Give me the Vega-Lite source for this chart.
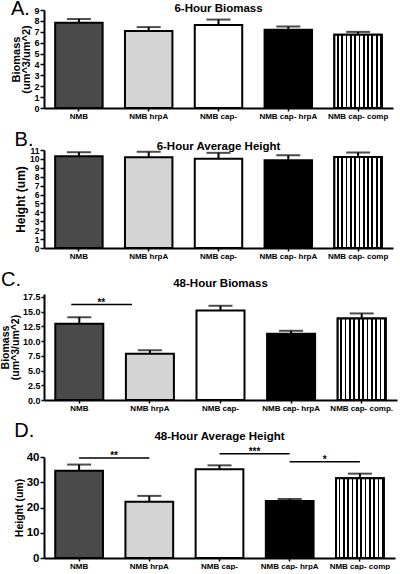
{
  "$schema": "https://vega.github.io/schema/vega-lite/v6.json",
  "padding": {"left": 0, "top": -2, "right": 2, "bottom": 0},
  "columns": 1,
  "spacing": 9,
  "datasets": {
    "A": [
      {"g": "NMB", "mean": 7.83, "upper": 8.17},
      {"g": "NMB hrpA", "mean": 7.08, "upper": 7.43},
      {"g": "NMB cap-", "mean": 7.62, "upper": 8.12},
      {"g": "NMB cap- hrpA", "mean": 7.18, "upper": 7.48},
      {"g": "NMB cap- comp", "mean": 6.72, "upper": 6.99}
    ],
    "B": [
      {"g": "NMB", "mean": 10.3, "upper": 10.75},
      {"g": "NMB hrpA", "mean": 10.2, "upper": 10.8},
      {"g": "NMB cap-", "mean": 10.03, "upper": 10.68},
      {"g": "NMB cap- hrpA", "mean": 9.85, "upper": 10.4},
      {"g": "NMB cap- comp", "mean": 10.22, "upper": 10.72}
    ],
    "C": [
      {"g": "NMB", "mean": 12.95, "upper": 14.05},
      {"g": "NMB hrpA", "mean": 7.85, "upper": 8.45},
      {"g": "NMB cap-", "mean": 15.2, "upper": 16.0},
      {"g": "NMB cap- hrpA", "mean": 11.25, "upper": 11.75},
      {"g": "NMB cap- comp.", "mean": 13.85, "upper": 14.7}
    ],
    "D": [
      {"g": "NMB", "mean": 34.6, "upper": 37.0},
      {"g": "NMB hrpA", "mean": 22.3, "upper": 24.6},
      {"g": "NMB cap-", "mean": 35.1, "upper": 36.7},
      {"g": "NMB cap- hrpA", "mean": 22.6, "upper": 23.4},
      {"g": "NMB cap- comp", "mean": 31.6, "upper": 33.4}
    ],
    "sigC": [
      {"a": "NMB", "b": "NMB hrpA", "y": 16.2, "label": "**"}
    ],
    "sigD": [
      {"a": "NMB", "b": "NMB hrpA", "y": 39.6, "label": "**"},
      {"a": "NMB cap-", "b": "NMB cap- hrpA", "y": 41.3, "label": "***"},
      {"a": "NMB cap- hrpA", "b": "NMB cap- comp", "y": 38.1, "label": "*"}
    ]
  },
  "concat": [
    {
      "title": {"text": "A.", "anchor": "start", "fontSize": 20, "fontWeight": "normal", "offset": -16},
      "vconcat": [
        {
          "width": 349, "height": 98,
          "title": {"text": "6-Hour Biomass", "fontSize": 11.5, "offset": -8},
          "data": {"name": "A"},
          "encoding": {
            "x": {"field": "g", "type": "nominal",
              "scale": {"domain": ["NMB", "NMB hrpA", "NMB cap-", "NMB cap- hrpA", "NMB cap- comp"], "paddingInner": 0.32, "paddingOuter": 0.16},
              "axis": {"title": null, "labelAngle": 0, "labelFontSize": 8, "tickSize": 3}}
          },
          "layer": [
            {"mark": {"type": "bar", "stroke": "black", "strokeWidth": 2},
             "encoding": {
               "y": {"field": "mean", "type": "quantitative", "scale": {"domain": [0, 9]},
                 "axis": {"title": ["Biomass", "(um^3/um^2)"], "values": [0,1,2,3,4,5,6,7,8,9], "tickCount": 10, "labelOverlap": false, "labelFontSize": 9, "titleFontSize": 11, "titleLineHeight": 10, "titlePadding": 2}},
               "color": {"field": "g", "type": "nominal", "legend": null,
                 "scale": {"domain": ["NMB", "NMB hrpA", "NMB cap-", "NMB cap- hrpA", "NMB cap- comp"], "range": ["#4a4a4a", "#d4d4d4", "#ffffff", "#000000", "#ffffff"]}}
             }},
            {"transform": [{"filter": "datum.g == 'NMB cap- comp'"}],
             "mark": {"type": "bar", "stroke": "black", "strokeWidth": 2,
               "fill": {"gradient": "linear", "x1": 0, "y1": 0, "x2": 1, "y2": 0, "stops": [
{"offset":0,"color":"white"},{"offset":0.055,"color":"white"},{"offset":0.055,"color":"black"},{"offset":0.0909,"color":"black"},
{"offset":0.0909,"color":"white"},{"offset":0.1459,"color":"white"},{"offset":0.1459,"color":"black"},{"offset":0.1818,"color":"black"},
{"offset":0.1818,"color":"white"},{"offset":0.2368,"color":"white"},{"offset":0.2368,"color":"black"},{"offset":0.2727,"color":"black"},
{"offset":0.2727,"color":"white"},{"offset":0.3277,"color":"white"},{"offset":0.3277,"color":"black"},{"offset":0.3636,"color":"black"},
{"offset":0.3636,"color":"white"},{"offset":0.4186,"color":"white"},{"offset":0.4186,"color":"black"},{"offset":0.4545,"color":"black"},
{"offset":0.4545,"color":"white"},{"offset":0.5095,"color":"white"},{"offset":0.5095,"color":"black"},{"offset":0.5455,"color":"black"},
{"offset":0.5455,"color":"white"},{"offset":0.6005,"color":"white"},{"offset":0.6005,"color":"black"},{"offset":0.6364,"color":"black"},
{"offset":0.6364,"color":"white"},{"offset":0.6914,"color":"white"},{"offset":0.6914,"color":"black"},{"offset":0.7273,"color":"black"},
{"offset":0.7273,"color":"white"},{"offset":0.7823,"color":"white"},{"offset":0.7823,"color":"black"},{"offset":0.8182,"color":"black"},
{"offset":0.8182,"color":"white"},{"offset":0.8732,"color":"white"},{"offset":0.8732,"color":"black"},{"offset":0.9091,"color":"black"},
{"offset":0.9091,"color":"white"},{"offset":0.9641,"color":"white"},{"offset":0.9641,"color":"black"},{"offset":1,"color":"black"}]}},
             "encoding": {"y": {"field": "mean", "type": "quantitative"}}},
            {"mark": {"type": "rule", "color": "black", "strokeWidth": 2},
             "encoding": {"y": {"field": "mean", "type": "quantitative"}, "y2": {"field": "upper"}}},
            {"mark": {"type": "tick", "color": "black", "thickness": 2, "size": 24},
             "encoding": {"y": {"field": "upper", "type": "quantitative"}}}
          ]
        }
      ]
    },
    {
      "title": {"text": "B.", "anchor": "start", "fontSize": 20, "fontWeight": "normal", "offset": -9},
      "vconcat": [
        {
          "width": 349, "height": 98,
          "title": {"text": "6-Hour Average Height", "fontSize": 11.5, "offset": -6},
          "data": {"name": "B"},
          "encoding": {
            "x": {"field": "g", "type": "nominal",
              "scale": {"domain": ["NMB", "NMB hrpA", "NMB cap-", "NMB cap- hrpA", "NMB cap- comp"], "paddingInner": 0.32, "paddingOuter": 0.16},
              "axis": {"title": null, "labelAngle": 0, "labelFontSize": 8, "tickSize": 3}}
          },
          "layer": [
            {"mark": {"type": "bar", "stroke": "black", "strokeWidth": 2},
             "encoding": {
               "y": {"field": "mean", "type": "quantitative", "scale": {"domain": [0, 11]},
                 "axis": {"title": "Height (um)", "values": [0,1,2,3,4,5,6,7,8,9,10,11], "tickCount": 12, "labelOverlap": false, "labelFontSize": 8.5, "titleFontSize": 12}},
               "color": {"field": "g", "type": "nominal", "legend": null,
                 "scale": {"domain": ["NMB", "NMB hrpA", "NMB cap-", "NMB cap- hrpA", "NMB cap- comp"], "range": ["#4a4a4a", "#d4d4d4", "#ffffff", "#000000", "#ffffff"]}}
             }},
            {"transform": [{"filter": "datum.g == 'NMB cap- comp'"}],
             "mark": {"type": "bar", "stroke": "black", "strokeWidth": 2,
               "fill": {"gradient": "linear", "x1": 0, "y1": 0, "x2": 1, "y2": 0, "stops": [
{"offset":0,"color":"white"},{"offset":0.055,"color":"white"},{"offset":0.055,"color":"black"},{"offset":0.0909,"color":"black"},
{"offset":0.0909,"color":"white"},{"offset":0.1459,"color":"white"},{"offset":0.1459,"color":"black"},{"offset":0.1818,"color":"black"},
{"offset":0.1818,"color":"white"},{"offset":0.2368,"color":"white"},{"offset":0.2368,"color":"black"},{"offset":0.2727,"color":"black"},
{"offset":0.2727,"color":"white"},{"offset":0.3277,"color":"white"},{"offset":0.3277,"color":"black"},{"offset":0.3636,"color":"black"},
{"offset":0.3636,"color":"white"},{"offset":0.4186,"color":"white"},{"offset":0.4186,"color":"black"},{"offset":0.4545,"color":"black"},
{"offset":0.4545,"color":"white"},{"offset":0.5095,"color":"white"},{"offset":0.5095,"color":"black"},{"offset":0.5455,"color":"black"},
{"offset":0.5455,"color":"white"},{"offset":0.6005,"color":"white"},{"offset":0.6005,"color":"black"},{"offset":0.6364,"color":"black"},
{"offset":0.6364,"color":"white"},{"offset":0.6914,"color":"white"},{"offset":0.6914,"color":"black"},{"offset":0.7273,"color":"black"},
{"offset":0.7273,"color":"white"},{"offset":0.7823,"color":"white"},{"offset":0.7823,"color":"black"},{"offset":0.8182,"color":"black"},
{"offset":0.8182,"color":"white"},{"offset":0.8732,"color":"white"},{"offset":0.8732,"color":"black"},{"offset":0.9091,"color":"black"},
{"offset":0.9091,"color":"white"},{"offset":0.9641,"color":"white"},{"offset":0.9641,"color":"black"},{"offset":1,"color":"black"}]}},
             "encoding": {"y": {"field": "mean", "type": "quantitative"}}},
            {"mark": {"type": "rule", "color": "black", "strokeWidth": 2},
             "encoding": {"y": {"field": "mean", "type": "quantitative"}, "y2": {"field": "upper"}}},
            {"mark": {"type": "tick", "color": "black", "thickness": 2, "size": 24},
             "encoding": {"y": {"field": "upper", "type": "quantitative"}}}
          ]
        }
      ]
    },
    {
      "title": {"text": "C.", "anchor": "start", "fontSize": 20, "fontWeight": "normal", "offset": -12},
      "vconcat": [
        {
          "width": 353, "height": 106,
          "title": {"text": "48-Hour Biomass", "fontSize": 11.5, "offset": 3.5},
          "data": {"name": "C"},
          "encoding": {
            "x": {"field": "g", "type": "nominal",
              "scale": {"domain": ["NMB", "NMB hrpA", "NMB cap-", "NMB cap- hrpA", "NMB cap- comp."], "paddingInner": 0.32, "paddingOuter": 0.16},
              "axis": {"title": null, "labelAngle": 0, "labelFontSize": 8, "tickSize": 3}}
          },
          "layer": [
            {"mark": {"type": "bar", "stroke": "black", "strokeWidth": 2},
             "encoding": {
               "y": {"field": "mean", "type": "quantitative", "scale": {"domain": [0, 17.5]},
                 "axis": {"title": ["Biomass", "(um^3/um^2)"], "values": [0, 2.5, 5, 7.5, 10, 12.5, 15, 17.5], "tickCount": 8, "format": ".1f", "labelOverlap": false, "labelFontSize": 9, "tickSize": 3, "titleFontSize": 10.5, "titleLineHeight": 9.5, "titlePadding": 2}},
               "color": {"field": "g", "type": "nominal", "legend": null,
                 "scale": {"domain": ["NMB", "NMB hrpA", "NMB cap-", "NMB cap- hrpA", "NMB cap- comp."], "range": ["#4a4a4a", "#d4d4d4", "#ffffff", "#000000", "#ffffff"]}}
             }},
            {"transform": [{"filter": "datum.g == 'NMB cap- comp.'"}],
             "mark": {"type": "bar", "stroke": "black", "strokeWidth": 2,
               "fill": {"gradient": "linear", "x1": 0, "y1": 0, "x2": 1, "y2": 0, "stops": [
{"offset":0,"color":"white"},{"offset":0.055,"color":"white"},{"offset":0.055,"color":"black"},{"offset":0.0909,"color":"black"},
{"offset":0.0909,"color":"white"},{"offset":0.1459,"color":"white"},{"offset":0.1459,"color":"black"},{"offset":0.1818,"color":"black"},
{"offset":0.1818,"color":"white"},{"offset":0.2368,"color":"white"},{"offset":0.2368,"color":"black"},{"offset":0.2727,"color":"black"},
{"offset":0.2727,"color":"white"},{"offset":0.3277,"color":"white"},{"offset":0.3277,"color":"black"},{"offset":0.3636,"color":"black"},
{"offset":0.3636,"color":"white"},{"offset":0.4186,"color":"white"},{"offset":0.4186,"color":"black"},{"offset":0.4545,"color":"black"},
{"offset":0.4545,"color":"white"},{"offset":0.5095,"color":"white"},{"offset":0.5095,"color":"black"},{"offset":0.5455,"color":"black"},
{"offset":0.5455,"color":"white"},{"offset":0.6005,"color":"white"},{"offset":0.6005,"color":"black"},{"offset":0.6364,"color":"black"},
{"offset":0.6364,"color":"white"},{"offset":0.6914,"color":"white"},{"offset":0.6914,"color":"black"},{"offset":0.7273,"color":"black"},
{"offset":0.7273,"color":"white"},{"offset":0.7823,"color":"white"},{"offset":0.7823,"color":"black"},{"offset":0.8182,"color":"black"},
{"offset":0.8182,"color":"white"},{"offset":0.8732,"color":"white"},{"offset":0.8732,"color":"black"},{"offset":0.9091,"color":"black"},
{"offset":0.9091,"color":"white"},{"offset":0.9641,"color":"white"},{"offset":0.9641,"color":"black"},{"offset":1,"color":"black"}]}},
             "encoding": {"y": {"field": "mean", "type": "quantitative"}}},
            {"mark": {"type": "rule", "color": "black", "strokeWidth": 2},
             "encoding": {"y": {"field": "mean", "type": "quantitative"}, "y2": {"field": "upper"}}},
            {"mark": {"type": "tick", "color": "black", "thickness": 2, "size": 24},
             "encoding": {"y": {"field": "upper", "type": "quantitative"}}},
            {"data": {"name": "sigC"},
             "mark": {"type": "rule", "color": "black", "strokeWidth": 1.5, "xOffset": -8, "x2Offset": -18},
             "encoding": {"x": {"field": "a", "type": "nominal"}, "x2": {"field": "b"}, "y": {"field": "y", "type": "quantitative"}}},
            {"data": {"name": "sigC"},
             "mark": {"type": "text", "color": "black", "fontSize": 10, "fontWeight": "bold", "baseline": "middle", "dx": 22, "dy": -2},
             "encoding": {"x": {"field": "a", "type": "nominal"}, "y": {"field": "y", "type": "quantitative"}, "text": {"field": "label"}}}
          ]
        }
      ]
    },
    {
      "title": {"text": "D.", "anchor": "start", "fontSize": 20, "fontWeight": "normal", "offset": -10},
      "vconcat": [
        {
          "width": 351, "height": 101,
          "title": {"text": "48-Hour Average  Height", "fontSize": 11.5, "offset": 4},
          "data": {"name": "D"},
          "encoding": {
            "x": {"field": "g", "type": "nominal",
              "scale": {"domain": ["NMB", "NMB hrpA", "NMB cap-", "NMB cap- hrpA", "NMB cap- comp"], "paddingInner": 0.32, "paddingOuter": 0.16},
              "axis": {"title": null, "labelAngle": 0, "labelFontSize": 8, "tickSize": 3}}
          },
          "layer": [
            {"mark": {"type": "bar", "stroke": "black", "strokeWidth": 2},
             "encoding": {
               "y": {"field": "mean", "type": "quantitative", "scale": {"domain": [0, 40]},
                 "axis": {"title": "Height (um)", "values": [0, 10, 20, 30, 40], "tickCount": 5, "labelOverlap": false, "labelFontSize": 11.5, "titleFontSize": 10.5}},
               "color": {"field": "g", "type": "nominal", "legend": null,
                 "scale": {"domain": ["NMB", "NMB hrpA", "NMB cap-", "NMB cap- hrpA", "NMB cap- comp"], "range": ["#4a4a4a", "#d4d4d4", "#ffffff", "#000000", "#ffffff"]}}
             }},
            {"transform": [{"filter": "datum.g == 'NMB cap- comp'"}],
             "mark": {"type": "bar", "stroke": "black", "strokeWidth": 2,
               "fill": {"gradient": "linear", "x1": 0, "y1": 0, "x2": 1, "y2": 0, "stops": [
{"offset":0,"color":"white"},{"offset":0.055,"color":"white"},{"offset":0.055,"color":"black"},{"offset":0.0909,"color":"black"},
{"offset":0.0909,"color":"white"},{"offset":0.1459,"color":"white"},{"offset":0.1459,"color":"black"},{"offset":0.1818,"color":"black"},
{"offset":0.1818,"color":"white"},{"offset":0.2368,"color":"white"},{"offset":0.2368,"color":"black"},{"offset":0.2727,"color":"black"},
{"offset":0.2727,"color":"white"},{"offset":0.3277,"color":"white"},{"offset":0.3277,"color":"black"},{"offset":0.3636,"color":"black"},
{"offset":0.3636,"color":"white"},{"offset":0.4186,"color":"white"},{"offset":0.4186,"color":"black"},{"offset":0.4545,"color":"black"},
{"offset":0.4545,"color":"white"},{"offset":0.5095,"color":"white"},{"offset":0.5095,"color":"black"},{"offset":0.5455,"color":"black"},
{"offset":0.5455,"color":"white"},{"offset":0.6005,"color":"white"},{"offset":0.6005,"color":"black"},{"offset":0.6364,"color":"black"},
{"offset":0.6364,"color":"white"},{"offset":0.6914,"color":"white"},{"offset":0.6914,"color":"black"},{"offset":0.7273,"color":"black"},
{"offset":0.7273,"color":"white"},{"offset":0.7823,"color":"white"},{"offset":0.7823,"color":"black"},{"offset":0.8182,"color":"black"},
{"offset":0.8182,"color":"white"},{"offset":0.8732,"color":"white"},{"offset":0.8732,"color":"black"},{"offset":0.9091,"color":"black"},
{"offset":0.9091,"color":"white"},{"offset":0.9641,"color":"white"},{"offset":0.9641,"color":"black"},{"offset":1,"color":"black"}]}},
             "encoding": {"y": {"field": "mean", "type": "quantitative"}}},
            {"mark": {"type": "rule", "color": "black", "strokeWidth": 2},
             "encoding": {"y": {"field": "mean", "type": "quantitative"}, "y2": {"field": "upper"}}},
            {"mark": {"type": "tick", "color": "black", "thickness": 2, "size": 24},
             "encoding": {"y": {"field": "upper", "type": "quantitative"}}},
            {"data": {"name": "sigD"},
             "mark": {"type": "rule", "color": "black", "strokeWidth": 1.5},
             "encoding": {"x": {"field": "a", "type": "nominal"}, "x2": {"field": "b"}, "y": {"field": "y", "type": "quantitative"}}},
            {"data": {"name": "sigD"},
             "mark": {"type": "text", "color": "black", "fontSize": 10, "fontWeight": "bold", "baseline": "middle", "dx": 35, "dy": -2},
             "encoding": {"x": {"field": "a", "type": "nominal"}, "y": {"field": "y", "type": "quantitative"}, "text": {"field": "label"}}}
          ]
        }
      ]
    }
  ],
  "config": {
    "font": "Liberation Sans",
    "view": {"stroke": null},
    "axis": {"grid": false, "domainColor": "black", "domainWidth": 2, "tickColor": "black", "tickWidth": 1.5, "tickSize": 4,
      "labelColor": "black", "titleColor": "black", "labelFontWeight": "bold", "titleFontWeight": "bold", "labelPadding": 1, "titlePadding": 2, "labelOverlap": false},
    "title": {"color": "black", "fontWeight": "bold", "font": "Liberation Sans"}
  }
}
